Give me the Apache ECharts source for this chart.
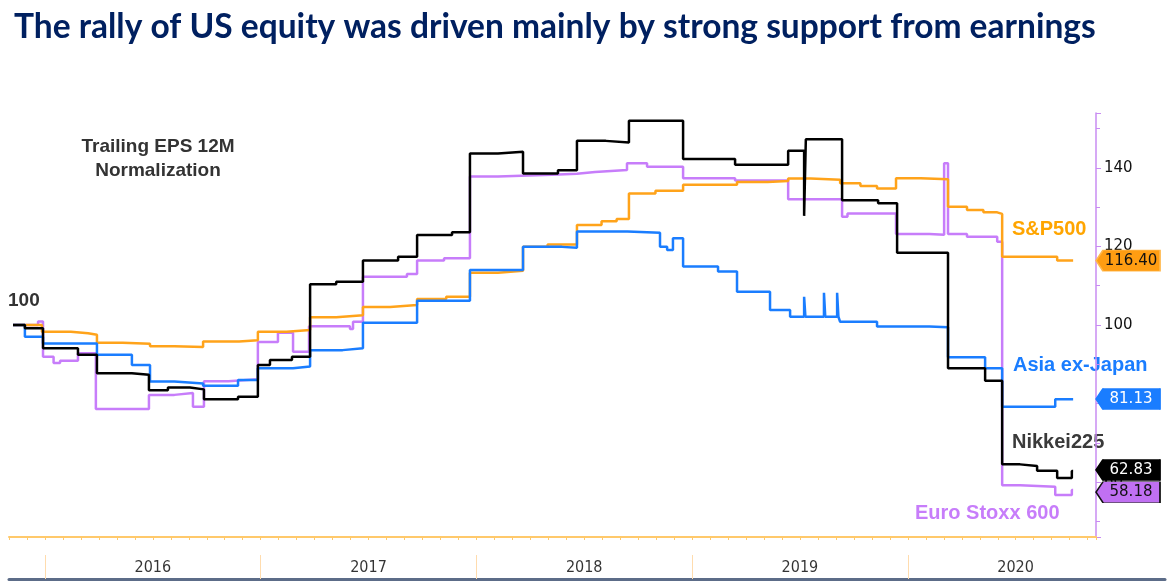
<!DOCTYPE html>
<html lang="en">
<head>
<meta charset="UTF-8">
<title>Trailing EPS 12M</title>
<style>
  html, body { margin:0; padding:0; background:#fff; }
  #chart-box { width:1174px; height:586px; }
</style>
</head>
<body>
<div id="chart-box"></div>
<script src="https://cdn.jsdelivr.net/npm/echarts@6/dist/echarts.min.js"></script>
<script>
// x = decimal year (2016.5 = middle of 2016), y = trailing EPS 12M normalized to 100
var sp500 = [[2015.852,100],[2015.986,98.3],[2016.12,97.9],[2016.20,97.5],[2016.241,95.5],[2016.36,95.2],[2016.487,94.6],[2016.60,94.4],[2016.733,95.8],[2016.90,96.1],[2016.987,98.3],[2017.12,98.7],[2017.229,102.0],[2017.35,102.5],[2017.474,104.6],[2017.60,105.1],[2017.725,106.6],[2017.86,107.2],[2017.970,113.3],[2018.10,113.8],[2018.216,119.9],[2018.33,120.5],[2018.466,125.5],[2018.58,126.4],[2018.65,127.0],[2018.707,133.5],[2018.83,134.2],[2018.958,135.7],[2019.208,136.4],[2019.35,136.7],[2019.445,137.3],[2019.55,137.0],[2019.686,136.1],[2019.78,135.4],[2019.857,134.8],[2019.945,137.4],[2020.06,137.1],[2020.186,130.1],[2020.274,129.3],[2020.35,128.7],[2020.414,128.3],[2020.437,117.4],[2020.692,116.4],[2020.766,116.4]];

var euroStoxx = [[2015.852,100],[2015.968,100.9],[2015.991,91.9],[2016.04,90.3],[2016.07,90.9],[2016.153,92.8],[2016.236,78.6],[2016.482,82.2],[2016.60,82.7],[2016.686,79.2],[2016.737,85.7],[2016.85,86.2],[2016.987,95.7],[2017.080,98.0],[2017.150,93.2],[2017.224,99.7],[2017.414,99.0],[2017.428,100.8],[2017.474,112.3],[2017.678,113.0],[2017.725,116.4],[2017.85,117.0],[2017.970,137.8],[2018.10,138.3],[2018.35,138.5],[2018.466,139.0],[2018.55,139.5],[2018.698,141.2],[2018.791,140.3],[2018.958,137.4],[2019.199,136.8],[2019.445,132.0],[2019.695,127.6],[2019.72,128.4],[2019.945,123.2],[2020.10,123.0],[2020.168,141.2],[2020.186,123.2],[2020.274,122.5],[2020.414,121.2],[2020.437,59.2],[2020.520,58.8],[2020.683,56.7],[2020.760,58.0],[2020.766,58.0]];

var nikkei = [[2015.852,100],[2015.907,99.2],[2015.991,94.1],[2016.153,92.4],[2016.241,87.7],[2016.403,87.3],[2016.482,83.4],[2016.570,84.1],[2016.672,83.6],[2016.737,81.1],[2016.895,81.7],[2016.987,89.8],[2017.043,91.1],[2017.145,91.9],[2017.229,110.4],[2017.35,111.0],[2017.474,116.4],[2017.637,117.4],[2017.725,122.9],[2017.887,123.6],[2017.970,143.7],[2018.10,144.1],[2018.216,138.6],[2018.378,139.4],[2018.466,146.9],[2018.60,146.5],[2018.707,152.0],[2018.958,142.3],[2019.199,140.8],[2019.445,144.4],[2019.519,127.8],[2019.527,147.3],[2019.695,131.8],[2019.862,131.0],[2019.950,118.4],[2020.186,89.0],[2020.358,85.8],[2020.437,64.5],[2020.520,64.1],[2020.599,62.9],[2020.692,61.0],[2020.760,62.8],[2020.766,62.8]];

var asiaExJapan = [[2015.852,100],[2015.907,97.0],[2015.991,95.3],[2016.241,92.4],[2016.403,89.8],[2016.487,85.6],[2016.60,85.1],[2016.733,84.5],[2016.895,86.0],[2016.987,89.0],[2017.15,89.4],[2017.229,93.6],[2017.38,94.1],[2017.474,100.6],[2017.725,106.2],[2017.970,114.0],[2018.216,119.9],[2018.397,119.7],[2018.466,123.8],[2018.70,123.5],[2018.851,119.9],[2018.884,119.1],[2018.911,122.1],[2018.958,114.9],[2019.120,113.6],[2019.208,108.5],[2019.361,103.8],[2019.454,102.1],[2019.519,107.2],[2019.525,102.1],[2019.611,108.2],[2019.617,102.1],[2019.672,108.2],[2019.678,102.1],[2019.686,100.8],[2019.857,99.6],[2020.10,99.4],[2020.186,91.8],[2020.358,89.0],[2020.437,79.2],[2020.683,81.1],[2020.766,81.1]];

// last values shown in the tags on the right axis
var lastValues = { sp500: 116.40, asia: 81.13, nikkei: 62.83, euro: 58.18 };
var yearLabels = ['2016', '2017', '2018', '2019', '2020'];

var xMin = 2015 + 10 / 12;
var xMax = 2020.872;
var bandMax = xMin + 1156 / 215.7;

function tag(value, fill, border, textColor, dy) {
    return {
        silent: true,
        symbol: 'path://M0,10.5 L7,0 L64,0 L64,21 L7,21 Z',
        symbolSize: [64, 21],
        symbolKeepAspect: false,
        symbolOffset: [32, dy || 0],
        itemStyle: { color: fill, borderColor: border, borderWidth: 1 },
        label: {
            show: true, position: 'inside', offset: [3, 0],
            color: textColor, fontSize: 15, fontFamily: 'DejaVu Sans',
            formatter: function (p) { return p.value.toFixed(2); }
        },
        data: [{ coord: [xMax, value], value: value }]
    };
}

function line(name, data, color, markPoint) {
    return {
        name: name, type: 'line', step: 'end',
        xAxisIndex: 0, yAxisIndex: 0,
        showSymbol: false, symbol: 'none',
        lineStyle: { color: color, width: 2.5 },
        itemStyle: { color: color },
        data: data,
        markPoint: markPoint
    };
}

var option = {
    animation: false,
    backgroundColor: '#fff',
    grid: [
        { left: 9, right: 78, top: 113, bottom: 49 },
        { left: 9, right: 9, top: 555, height: 24 }
    ],
    xAxis: [
        {
            gridIndex: 0, type: 'value', min: xMin, max: xMax, interval: 1 / 12,
            axisLine: { show: true, onZero: false, lineStyle: { color: '#ffc96b', width: 2 } },
            axisTick: { show: true, length: 3, lineStyle: { color: '#ffc96b' } },
            axisLabel: { show: false },
            splitLine: { show: false }
        },
        {
            gridIndex: 1, type: 'value', min: xMin, max: bandMax,
            axisLine: { show: true, onZero: false, lineStyle: { color: '#5c6c88', width: 3 } },
            axisTick: { show: false }, axisLabel: { show: false }, splitLine: { show: false }
        }
    ],
    yAxis: [
        {
            gridIndex: 0, type: 'value', position: 'right', min: 46, max: 154, splitNumber: 5,
            axisLine: { show: true, lineStyle: { color: '#c98cf2', width: 1.5 } },
            axisTick: { show: true, length: 5, lineStyle: { color: '#c98cf2' } },
            minorTick: { show: true, splitNumber: 2, length: 4, lineStyle: { color: '#c98cf2' } },
            axisLabel: {
                color: '#111', fontSize: 15, fontFamily: 'DejaVu Sans', margin: 8,
                formatter: function (v) { return v % 20 === 0 ? v : ''; }
            },
            splitLine: { show: false }
        },
        { gridIndex: 1, type: 'value', min: 0, max: 1, show: false }
    ],
    series: [
        line('Euro Stoxx 600', euroStoxx, '#c77dfa', tag(lastValues.euro, '#c070f2', '#111', '#111', 3)),
        line('S&P500', sp500, '#ffa31a', tag(lastValues.sp500, '#ff9d12', '#ffb84d', '#111')),
        line('Asia ex-Japan', asiaExJapan, '#1a7dff', tag(lastValues.asia, '#1a7dff', '#1a7dff', '#fff')),
        line('Nikkei225', nikkei, '#000', tag(lastValues.nikkei, '#000', '#000', '#fff', -1)),
        {
            // year band under the chart
            type: 'scatter', xAxisIndex: 1, yAxisIndex: 1, silent: true,
            symbolSize: 1, itemStyle: { color: 'rgba(0,0,0,0)' },
            label: {
                show: true, position: 'inside', color: '#000', fontSize: 16,
                fontFamily: 'DejaVu Sans Condensed',
                formatter: function (p) { return yearLabels[p.dataIndex]; }
            },
            data: yearLabels.map(function (y) { return [+y + 0.5, 0.46]; }),
            markLine: {
                silent: true, symbol: ['none', 'none'],
                label: { show: false },
                lineStyle: { color: '#ffdcae', type: 'solid', width: 1 },
                data: yearLabels.map(function (y) { return { xAxis: +y }; })
            }
        }
    ],
    graphic: [
        {
            type: 'text', left: 14, top: 10,
            style: { text: 'The rally of US equity was driven mainly by strong support from earnings',
                     font: 'bold 33.5px Lato', fill: '#002060' }
        },
        {
            type: 'text', x: 158, y: 147,
            style: { text: 'Trailing EPS 12M', font: 'bold 19px "Liberation Sans"', fill: '#333',
                     align: 'center', verticalAlign: 'middle' }
        },
        {
            type: 'text', x: 158, y: 171,
            style: { text: 'Normalization', font: 'bold 19px "Liberation Sans"', fill: '#333',
                     align: 'center', verticalAlign: 'middle' }
        },
        {
            type: 'text', x: 8, y: 301,
            style: { text: '100', font: 'bold 19px "Liberation Sans"', fill: '#333', verticalAlign: 'middle' }
        },
        {
            type: 'text', x: 1012, y: 229,
            style: { text: 'S&P500', font: 'bold 20px "Liberation Sans"', fill: '#ffa500', verticalAlign: 'middle' }
        },
        {
            type: 'text', x: 1013, y: 365,
            style: { text: 'Asia ex-Japan', font: 'bold 20px "Liberation Sans"', fill: '#1a7dff', verticalAlign: 'middle' }
        },
        {
            type: 'text', x: 1012, y: 442,
            style: { text: 'Nikkei225', font: 'bold 20px "Liberation Sans"', fill: '#3a3a3a', verticalAlign: 'middle' }
        },
        {
            type: 'text', x: 915, y: 513,
            style: { text: 'Euro Stoxx 600', font: 'bold 20px "Liberation Sans"', fill: '#c77dfa', verticalAlign: 'middle' }
        }
    ]
};

var yxChart = echarts.init(document.getElementById('chart-box'));
yxChart.setOption(option);
</script>
</body>
</html>
